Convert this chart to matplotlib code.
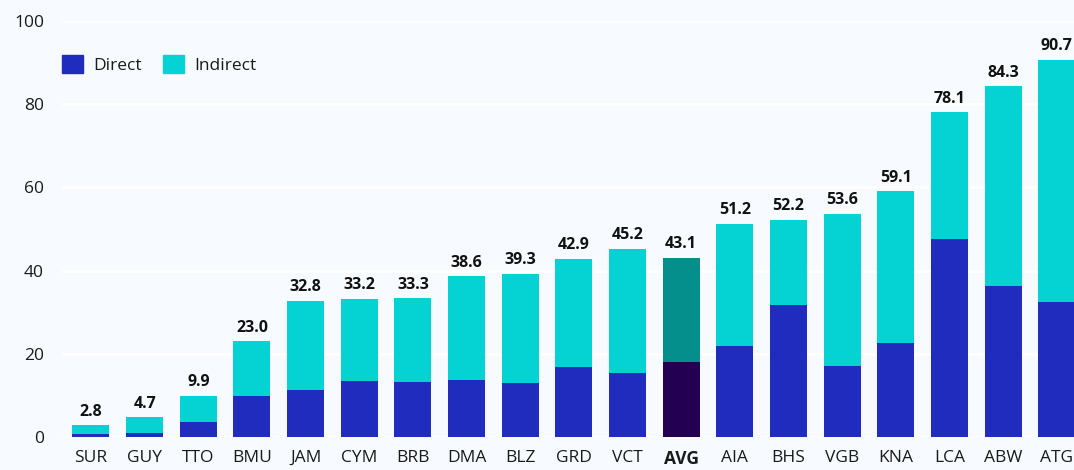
import matplotlib
matplotlib.use('Agg')
import matplotlib.pyplot as plt
from matplotlib.patches import Patch

# data
codes = ['SUR', 'GUY', 'TTO', 'BMU', 'JAM', 'CYM', 'BRB', 'DMA', 'BLZ', 'GRD',
         'VCT', 'AVG', 'AIA', 'BHS', 'VGB', 'KNA', 'LCA', 'ABW', 'ATG']
totals = [2.8, 4.7, 9.9, 23.0, 32.8, 33.2, 33.3, 38.6, 39.3, 42.9,
          45.2, 43.1, 51.2, 52.2, 53.6, 59.1, 78.1, 84.3, 90.7]
direct = [0.7, 1.0, 3.6, 9.9, 11.3, 13.5, 13.2, 13.7, 13.0, 16.8,
          15.4, 18.0, 21.9, 31.7, 17.1, 22.6, 47.6, 36.3, 32.5]
indirect = [t - d for t, d in zip(totals, direct)]

avg_code = 'AVG'
bg = '#F7FAFE'
c_direct, c_indirect = '#1F2CBD', '#05D3D3'
c_avg_direct, c_avg_indirect = '#230052', '#058F8C'

plt.rcParams['font.family'] = ['Open Sans', 'DejaVu Sans']

fig = plt.figure(figsize=(10.74, 4.70), dpi=100, facecolor=bg)
ax = fig.add_axes([62 / 1074, 33 / 470, 1 - 62 / 1074, 416 / 470])
ax.set_facecolor(bg)

x = range(len(codes))
dcols = [c_avg_direct if c == avg_code else c_direct for c in codes]
icols = [c_avg_indirect if c == avg_code else c_indirect for c in codes]
ax.bar(x, direct, width=0.69, color=dcols, zorder=3)
ax.bar(x, indirect, width=0.69, bottom=direct, color=icols, zorder=3)

for i, t in enumerate(totals):
    ax.annotate(f'{t:.1f}', (i, t), xytext=(0, 4), textcoords='offset points',
                ha='center', va='bottom', fontsize=11.5, fontweight='bold',
                color='#111111')

ax.set_ylim(0, 100)
ax.set_xlim(-0.54, 18.32)
ax.set_yticks(range(0, 101, 20))
ax.set_xticks(list(x))
ax.set_xticklabels(codes)
for lbl in ax.get_xticklabels():
    if lbl.get_text() == avg_code:
        lbl.set_fontweight('bold')
ax.tick_params(axis='both', length=0, labelsize=12.5, colors='#1a1a1a')
ax.tick_params(axis='x', pad=9)
ax.tick_params(axis='y', pad=13)
ax.grid(axis='y', color='white', linewidth=2, zorder=0)
ax.set_axisbelow(True)
for s in ax.spines.values():
    s.set_visible(False)

handles = [Patch(color=c_direct, label='Direct'),
           Patch(color=c_indirect, label='Indirect')]
leg = ax.legend(handles=handles, loc='upper left', bbox_to_anchor=(-0.015, 0.955),
                ncol=2, frameon=False, fontsize=12.5, handlelength=1.2,
                handleheight=1.2, handletextpad=0.6, columnspacing=1.2)
for txt in leg.get_texts():
    txt.set_color('#1a1a1a')

plt.savefig('out.png', dpi=100, facecolor=bg)
plt.close()
